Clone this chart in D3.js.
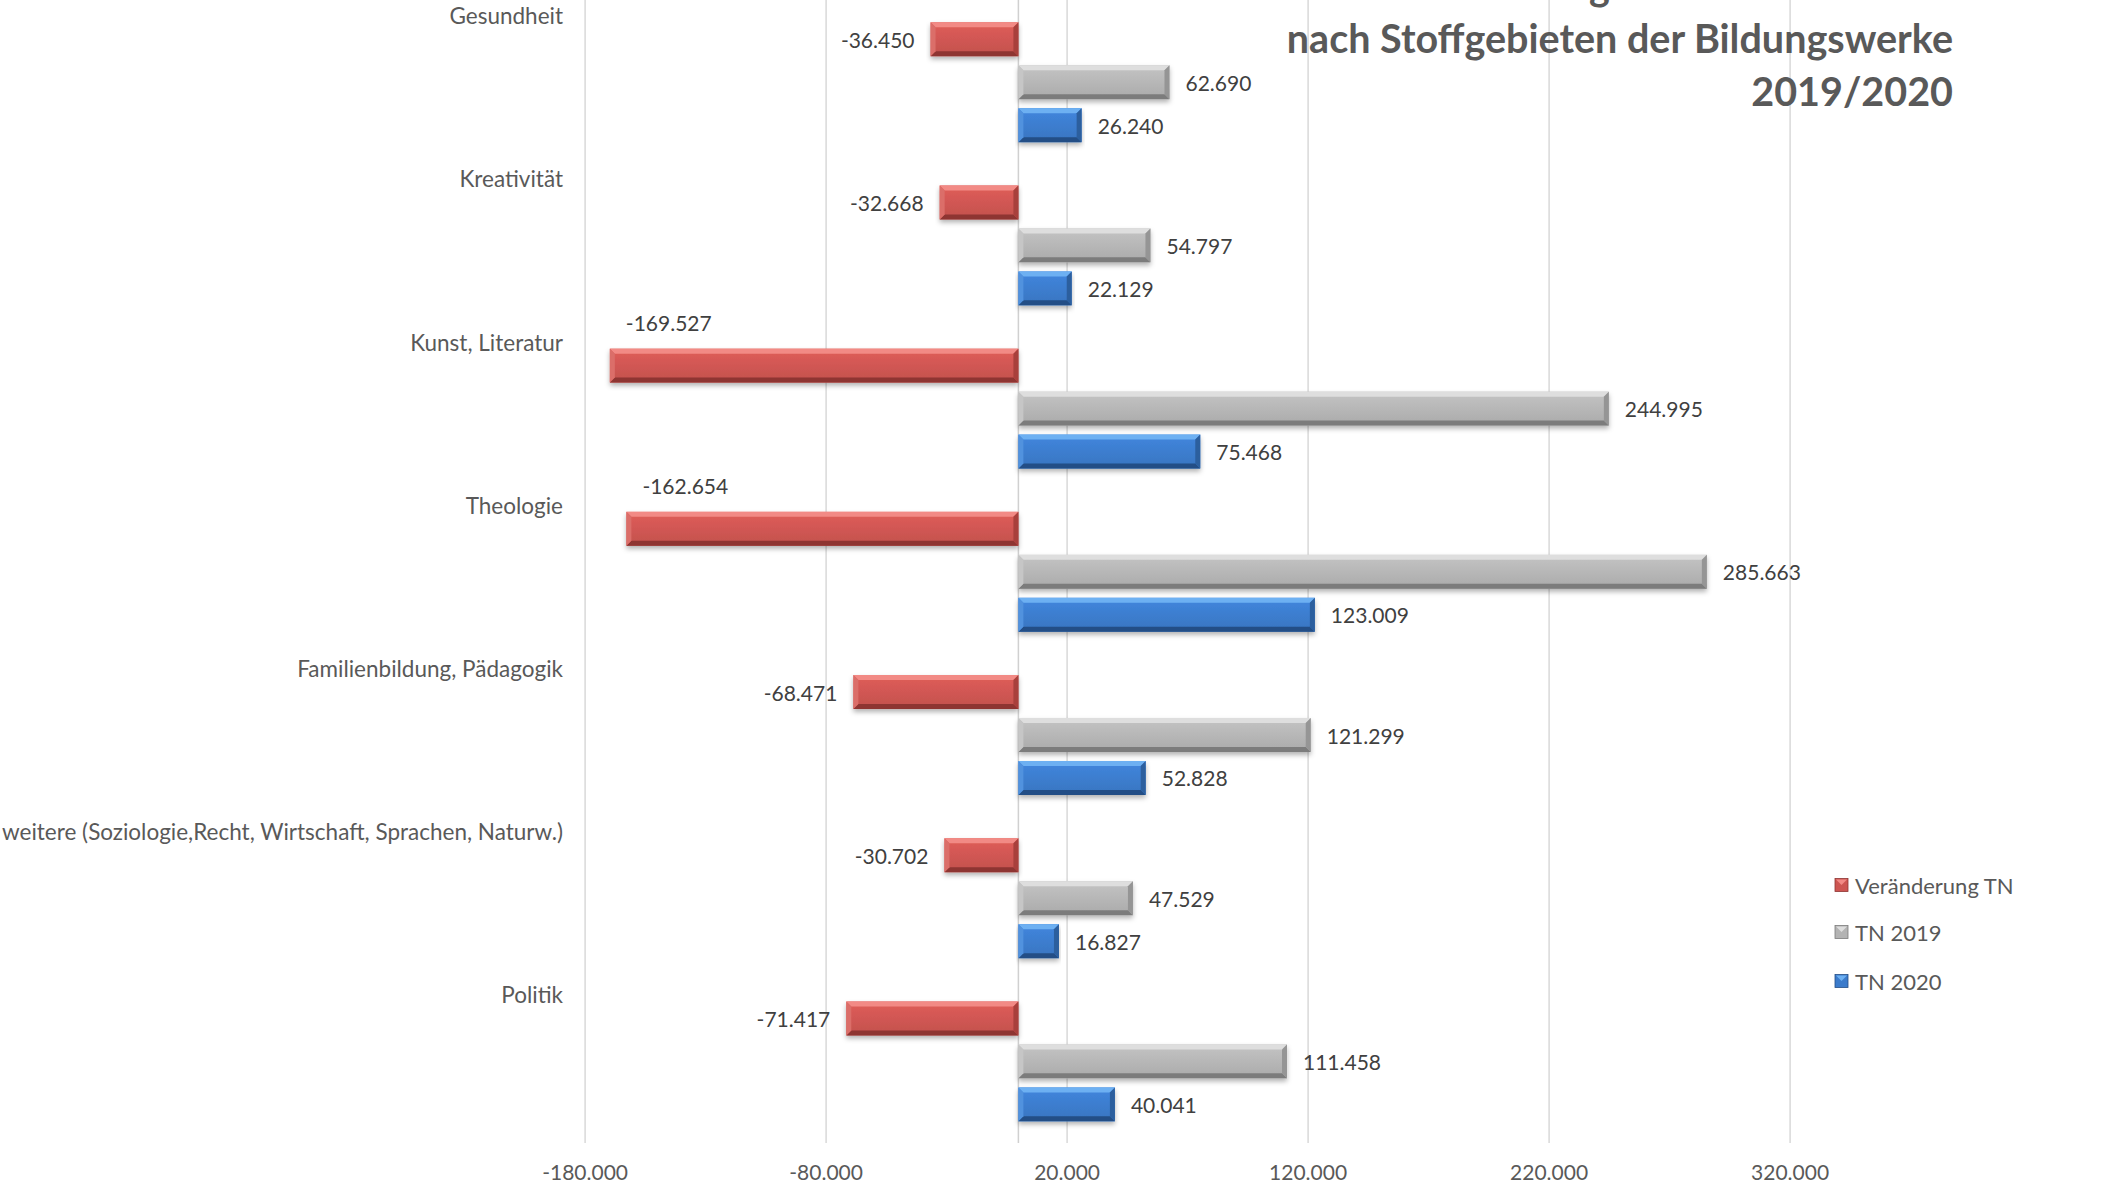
<!DOCTYPE html>
<html><head><meta charset="utf-8">
<script src="https://cdn.jsdelivr.net/npm/d3@7"></script>
<style>
html,body{margin:0;padding:0;background:#fff;}
svg{display:block;font-family:Lato, "Open Sans", sans-serif;}
</style></head>
<body><svg id="c" width="2112" height="1187"></svg>
<script>
const categories = ["Gesundheit","Kreativität","Kunst, Literatur","Theologie","Familienbildung, Pädagogik","weitere (Soziologie,Recht, Wirtschaft, Sprachen, Naturw.)","Politik"];
const seriesNames = ["Veränderung TN","TN 2019","TN 2020"];
const changeTN = [-36450,-32668,-169527,-162654,-68471,-30702,-71417];
const tn2019 = [62690,54797,244995,285663,121299,47529,111458];
const tn2020 = [26240,22129,75468,123009,52828,16827,40041];
const tickValues = [-180000,-80000,20000,120000,220000,320000];
const titleLines = ["Veränderung der Teilnehmenden","nach Stoffgebieten der Bildungswerke","2019/2020"];

const seriesData = [changeTN, tn2019, tn2020];
const colors = [
  {base:"#CD5551", light:"#F28A85", side:"#DB6E69", dark:"#8E3532", sdark:"#A8403C"},
  {base:"#B3B3B3", light:"#DEDEDE", side:"#C6C6C6", dark:"#7C7C7C", sdark:"#959595"},
  {base:"#3B7BCB", light:"#6DB0F2", side:"#5192DE", dark:"#234E86", sdark:"#2C5F9E"}
];

const svg = d3.select("#c");
const loc = d3.formatLocale({decimal:",", thousands:".", grouping:[3], currency:["","€"], minus:"-"});
const fmt = loc.format(",.0f");

const x = d3.scaleLinear().domain([-180000,320000]).range([584.6,1789.6]);
const y = d3.scaleBand().domain(categories).range([0.6,1143]).padding(0);
const ys = d3.scaleBand().domain(seriesNames).range([0,y.bandwidth()]).paddingInner(0.21).paddingOuter(0.504);

const defs = svg.append("defs");
const f = defs.append("filter").attr("id","sh").attr("x","-5%").attr("y","-30%").attr("width","110%").attr("height","170%");
f.append("feDropShadow").attr("dx",0).attr("dy",3).attr("stdDeviation",2.5).attr("flood-color","#000").attr("flood-opacity",0.3);
colors.forEach((c,i)=>{
  const g = defs.append("linearGradient").attr("id","g"+i).attr("x1",0).attr("y1",0).attr("x2",0).attr("y2",1);
  g.append("stop").attr("offset","0%").attr("stop-color",d3.color(c.base).brighter(0.25));
  g.append("stop").attr("offset","100%").attr("stop-color",d3.color(c.base).darker(0.15));
});

// gridlines
const grid = svg.append("g").attr("transform","translate(0,1143)")
  .call(d3.axisBottom(x).tickValues(tickValues).tickSize(-1143).tickFormat(""));
grid.select(".domain").remove();
grid.selectAll("line").attr("stroke","#D9D9D9").attr("stroke-width",1.5);

// zero axis line
svg.append("line").attr("x1",x(0)).attr("x2",x(0)).attr("y1",0).attr("y2",1143)
  .attr("stroke","#D0D0D0").attr("stroke-width",1.5);

// axis labels
const ax = svg.append("g").attr("transform","translate(0,1143)")
  .call(d3.axisBottom(x).tickValues(tickValues).tickSize(0).tickPadding(22).tickFormat(fmt));
ax.select(".domain").remove();
ax.selectAll("text").attr("font-size",21).attr("fill","#595959").attr("font-family","Lato, sans-serif");

// bars
const bev = 5;
categories.forEach((cat,ci)=>{
  seriesNames.forEach((sn,si)=>{
    const v = seriesData[si][ci];
    const x0 = Math.min(x(0),x(v)), x1 = Math.max(x(0),x(v));
    const w = x1-x0, h = ys.bandwidth();
    const y0 = y(cat)+ys(sn);
    const c = colors[si];
    const g = svg.append("g");
    g.append("rect").attr("x",x0).attr("y",y0).attr("width",w).attr("height",h)
      .attr("fill","url(#g"+si+")").attr("filter","url(#sh)");
    const b = Math.min(bev, w/2);
    const poly = (pts,fill)=>g.append("polygon").attr("points",pts.map(p=>p.join(",")).join(" ")).attr("fill",fill);
    poly([[x0,y0],[x1,y0],[x1-b,y0+b],[x0+b,y0+b]], c.light);
    poly([[x0,y0+h],[x1,y0+h],[x1-b,y0+h-b],[x0+b,y0+h-b]], c.dark);
    poly([[x0,y0],[x0+b,y0+b],[x0+b,y0+h-b],[x0,y0+h]], c.side);
    poly([[x1,y0],[x1-b,y0+b],[x1-b,y0+h-b],[x1,y0+h]], c.sdark);
    // label
    const cy = y0+h/2;
    const t = g.append("text").attr("font-size",21).attr("fill","#404040").attr("dominant-baseline","central").text(fmt(v));
    if (v >= 0) {
      t.attr("x",x1+16).attr("y",cy).attr("text-anchor","start");
    } else if (x0 - 110 < x.range()[0]) {
      t.attr("x",x0+16).attr("y",cy-ys.step()).attr("text-anchor","start");
    } else {
      t.attr("x",x0-16).attr("y",cy).attr("text-anchor","end");
    }
  });
});

// category labels
svg.append("g").selectAll("text").data(categories).join("text")
  .attr("x",563).attr("y",d=>y(d)+15).attr("text-anchor","end").attr("dominant-baseline","central")
  .attr("font-size",22.5).attr("fill","#595959").text(d=>d);

// title
const tt = svg.append("g").attr("font-weight","bold").attr("font-size",39.5).attr("fill","#595959").attr("text-anchor","end");
tt.selectAll("text").data(titleLines).join("text")
  .attr("x",1953).attr("y",(d,i)=>0+i*53).text(d=>d);

// legend
const lg = svg.append("g");
seriesNames.forEach((sn,i)=>{
  const cy = [885,932,981][i];
  const c = colors[i];
  lg.append("rect").attr("x",1835).attr("y",cy-6.5).attr("width",13).attr("height",13).attr("fill",c.base).attr("stroke",c.dark).attr("stroke-width",0.8);
  lg.append("polygon").attr("points",`${1836},${cy-5.5} ${1847},${cy-5.5} ${1841.5},${cy}`).attr("fill",c.light);
  lg.append("text").attr("x",1855).attr("y",cy).attr("dominant-baseline","central").attr("font-size",22).attr("fill","#595959").text(sn);
});
</script></body></html>
